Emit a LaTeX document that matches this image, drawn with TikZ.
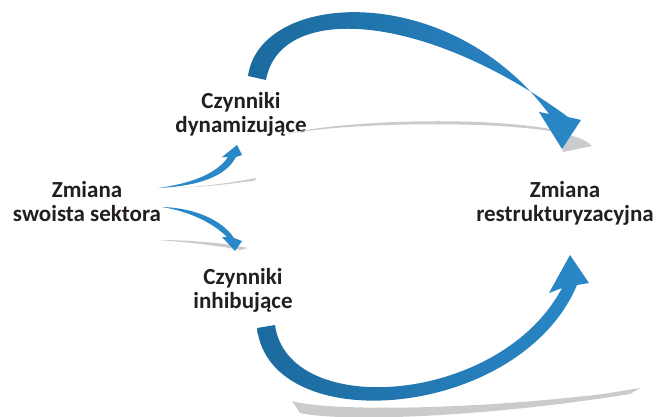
\documentclass[tikz,border=0pt]{standalone}
\usepackage{fontspec}
\setmainfont{Carlito}
\begin{document}
\begin{tikzpicture}[x=1pt,y=-1pt]
\definecolor{ink}{HTML}{231F20}
\definecolor{bluedark}{HTML}{1C6A9E}
\definecolor{bluelight}{HTML}{2A88C8}
\definecolor{shadowgray}{HTML}{CBCBCD}
\tikzset{
  labeltext/.style={font=\bfseries\fontsize{23}{24}\selectfont, text=ink, align=center, inner sep=0pt},
  bigarrow/.style={left color=bluedark, right color=bluelight, draw=none},
  smallarrow/.style={fill=bluelight, draw=none},
  shadowband/.style={fill=shadowgray, draw=none}
}
\useasboundingbox (0,0) rectangle (661,417);

% labels
\node[labeltext] (dyn) at (241,114.4) {Czynniki\\dynamizujące};
\node[labeltext] (zss) at (87,201.3) {Zmiana\\swoista sektora};
\node[labeltext] (inh) at (243,290.4) {Czynniki\\inhibujące};
\node[labeltext] (zr)  at (565,203.6) {Zmiana\\restrukturyzacyjna};

% soft grey shadows under the arrows
\fill[shadowband] (283,135) .. controls (330,121) and (480,115) .. (556,130)
  -- (556,132) .. controls (480,119) and (330,124) .. (283,135) -- cycle;
\fill[shadowband] (560,134) .. controls (580,136) and (588,142) .. (592,146)
  -- (563,152) -- cycle;
\fill[shadowband] (177,188) .. controls (210,186) and (235,182) .. (256,178)
  -- (255,180.5) .. controls (230,184) and (205,187) .. (177,188) -- cycle;
\fill[shadowband] (158,240) .. controls (190,240) and (225,243) .. (248,248)
  -- (240,250) .. controls (215,245) and (185,242) .. (158,240) -- cycle;
\fill[shadowband] (292,401) .. controls (320,410) and (450,412) .. (603,394)
  -- (640,388) -- (630,394) .. controls (480,418) and (340,422) .. (300,413) -- cycle;

% large curved arrows towards the restructuring change
\shade[bigarrow] (248,76) .. controls (260,-10) and (450,-20) .. (549,114)
  -- (539,112) -- (562,149) -- (581,120) -- (568,117)
  .. controls (425,12) and (280,2) .. (266,80) -- cycle;
\shade[bigarrow] (257,328) .. controls (270,440) and (520,420) .. (577,285)
  -- (589,283) -- (570,255) -- (549,293) -- (562,288)
  .. controls (500,405) and (288,420) .. (275,325) -- cycle;

% small arrows from the sector change
\fill[smallarrow] (158,188) .. controls (200,186) and (226,176) .. (236,157)
  -- (242,155) -- (237,145) -- (222,157) -- (228,157)
  .. controls (218,172) and (195,183) .. (158,188) -- cycle;
\fill[smallarrow] (162,207) .. controls (195,208) and (222,220) .. (234,238)
  -- (242,241) -- (235,251) -- (222,237) -- (227,237)
  .. controls (214,224) and (192,212) .. (162,207) -- cycle;
\end{tikzpicture}
\end{document}
